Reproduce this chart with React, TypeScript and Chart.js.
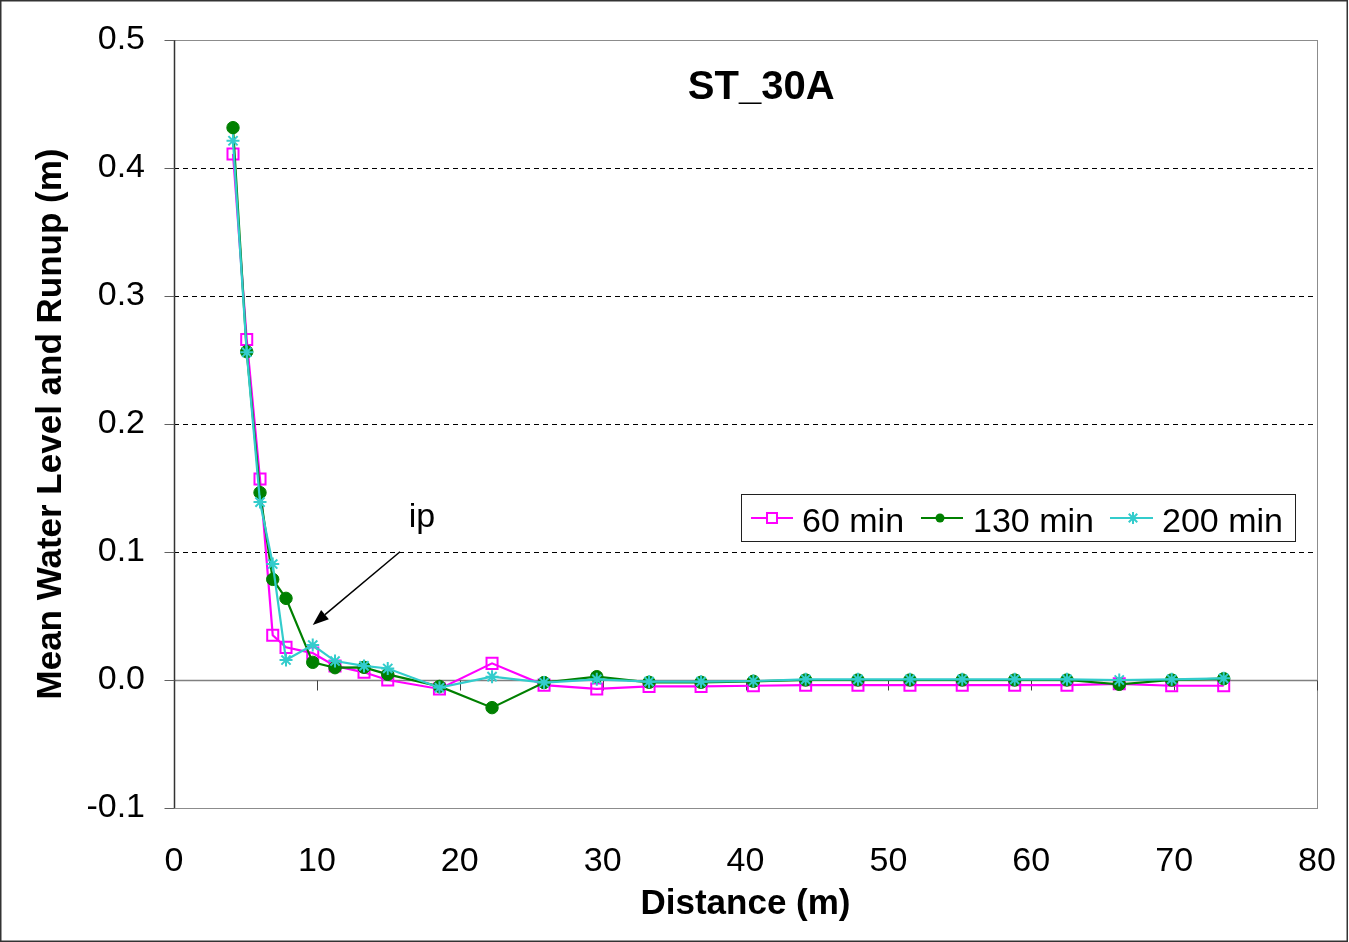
import React, { useEffect, useRef } from 'react';
import { Chart, registerables } from 'chart.js';

Chart.register(...registerables);

// ---------- data ----------
const distance = [4.13, 5.09, 6.02, 6.91, 7.84, 9.71, 11.27, 13.3, 14.96, 18.58, 22.26, 25.9, 29.59, 33.25, 36.89, 40.55, 44.21, 47.87, 51.51, 55.17, 58.84, 62.5, 66.16, 69.83, 73.47];
const min60 = [0.411, 0.266, 0.157, 0.035, 0.0255, 0.021, 0.011, 0.006, 0.0, -0.007, 0.013, -0.004, -0.007, -0.005, -0.005, -0.0045, -0.004, -0.004, -0.004, -0.004, -0.004, -0.004, -0.003, -0.0045, -0.0045];
const min130 = [0.4315, 0.2565, 0.1464, 0.0786, 0.0638, 0.0138, 0.0096, 0.0099, 0.0044, -0.005, -0.0216, -0.002, 0.0026, -0.0018, -0.0018, -0.001, 0, 0, 0, 0, 0, 0, -0.0034, 0, 0.001];
const min200 = [0.4213, 0.256, 0.139, 0.0906, 0.0156, 0.0273, 0.0148, 0.011, 0.009, -0.006, 0.0026, -0.002, 0.0005, -0.0013, -0.0013, -0.0008, 0.0005, 0.0005, 0.0005, 0.0005, 0.0005, 0.0005, 0, 0.0005, 0.0013];
const seriesNames = ['60 min', '130 min', '200 min'];
const xTicks = [0, 10, 20, 30, 40, 50, 60, 70, 80];
const yTicks = [-0.1, 0, 0.1, 0.2, 0.3, 0.4, 0.5];
const chartTitle = 'ST_30A';
const xTitle = 'Distance (m)';
const yTitle = 'Mean Water Level and Runup (m)';
const annotationText = 'ip';
const annotationTextAt = { x: 17.36, y: 0.1195 };
const arrowFrom = { x: 15.82, y: 0.1002 };
const arrowTo = { x: 9.71, y: 0.043 };

const FONT = "'Liberation Sans', Arial, Helvetica, sans-serif";
const MAGENTA = '#FF00FF';
const GREEN = '#008000';
const CYAN = '#33CCCC';

function drawStar(ctx: CanvasRenderingContext2D, cx: number, cy: number, r: number) {
  ctx.beginPath();
  for (let i = 0; i < 4; i++) {
    const a = (i * Math.PI) / 4;
    ctx.moveTo(cx - Math.cos(a) * r, cy - Math.sin(a) * r);
    ctx.lineTo(cx + Math.cos(a) * r, cy + Math.sin(a) * r);
  }
  ctx.stroke();
}

const decor = {
  id: 'decor',
  beforeDraw(chart: any) {
    const ctx = chart.ctx;
    ctx.save();
    ctx.fillStyle = '#ffffff';
    ctx.fillRect(0, 0, chart.width, chart.height);
    ctx.restore();
  },
  beforeDatasetsDraw(chart: any) {
    const { ctx, chartArea: a, scales } = chart;
    const x = scales.x;
    const y = scales.y;
    ctx.save();
    const line = (x1: number, y1: number, x2: number, y2: number) => {
      ctx.beginPath();
      ctx.moveTo(x1, y1);
      ctx.lineTo(x2, y2);
      ctx.stroke();
    };
    // dashed grid lines
    ctx.strokeStyle = '#000000';
    ctx.lineWidth = 1;
    ctx.setLineDash([5, 4]);
    for (const v of yTicks) {
      if (v <= 0 || v >= 0.5) continue;
      const py = Math.round(y.getPixelForValue(v)) + 0.5;
      line(a.left, py, a.right, py);
    }
    ctx.setLineDash([]);
    // plot border
    ctx.strokeStyle = '#8c8c8c';
    ctx.lineWidth = 1;
    ctx.strokeRect(Math.round(a.left) + 0.5, Math.round(a.top) + 0.5, Math.round(a.right - a.left), Math.round(a.bottom - a.top));
    // zero line with tick marks
    const y0 = Math.round(y.getPixelForValue(0)) + 0.5;
    ctx.strokeStyle = '#808080';
    ctx.lineWidth = 1.5;
    line(a.left, y0, a.right, y0);
    ctx.strokeStyle = '#404040';
    ctx.lineWidth = 1;
    for (const v of xTicks) {
      if (v === 0) continue;
      const px = Math.round(x.getPixelForValue(v)) + 0.5;
      line(px, y0, px, y0 + 10);
    }
    // y axis line and tick marks
    const ax = Math.round(a.left) + 0.5;
    ctx.strokeStyle = '#333333';
    ctx.lineWidth = 1.5;
    line(ax, a.top, ax, a.bottom);
    ctx.strokeStyle = '#606060';
    ctx.lineWidth = 1;
    for (const v of yTicks) {
      const py = Math.round(y.getPixelForValue(v)) + 0.5;
      line(ax - 10, py, ax, py);
    }
    ctx.restore();
  },
  afterDatasetsDraw(chart: any) {
    const { ctx, chartArea: a, scales } = chart;
    const x = scales.x;
    const y = scales.y;
    ctx.save();
    // title
    ctx.fillStyle = '#000000';
    ctx.font = `bold 40px ${FONT}`;
    ctx.textAlign = 'center';
    ctx.textBaseline = 'alphabetic';
    ctx.fillText(chartTitle, x.getPixelForValue(41.1), y.getPixelForValue(0.4537));
    // annotation
    ctx.font = `34px ${FONT}`;
    ctx.fillText(annotationText, x.getPixelForValue(annotationTextAt.x), y.getPixelForValue(annotationTextAt.y));
    const x1 = x.getPixelForValue(arrowFrom.x);
    const y1 = y.getPixelForValue(arrowFrom.y);
    const x2 = x.getPixelForValue(arrowTo.x);
    const y2 = y.getPixelForValue(arrowTo.y);
    const ang = Math.atan2(y2 - y1, x2 - x1);
    const headLen = 16;
    const headW = 6;
    const bx = x2 - Math.cos(ang) * headLen;
    const by = y2 - Math.sin(ang) * headLen;
    ctx.strokeStyle = '#000000';
    ctx.lineWidth = 1.5;
    ctx.beginPath();
    ctx.moveTo(x1, y1);
    ctx.lineTo(bx, by);
    ctx.stroke();
    ctx.beginPath();
    ctx.moveTo(x2, y2);
    ctx.lineTo(bx + Math.sin(ang) * headW, by - Math.cos(ang) * headW);
    ctx.lineTo(bx - Math.sin(ang) * headW, by + Math.cos(ang) * headW);
    ctx.closePath();
    ctx.fillStyle = '#000000';
    ctx.fill();

    // legend box
    const boxL = a.left + 567;
    const boxT = a.top + 454;
    const boxW = 554;
    const boxH = 47;
    ctx.fillStyle = '#ffffff';
    ctx.fillRect(boxL, boxT, boxW, boxH);
    ctx.strokeStyle = '#202020';
    ctx.lineWidth = 1;
    ctx.strokeRect(Math.round(boxL) + 0.5, Math.round(boxT) + 0.5, boxW, boxH);
    const cy = boxT + 24;
    const items = [
      { color: MAGENTA, l: boxL + 10, r: boxL + 52, m: boxL + 31, tx: boxL + 61, kind: 'rect' },
      { color: GREEN, l: boxL + 180, r: boxL + 222, m: boxL + 199, tx: boxL + 232, kind: 'circle' },
      { color: CYAN, l: boxL + 369, r: boxL + 412, m: boxL + 392, tx: boxL + 421, kind: 'star' },
    ];
    items.forEach((it, i) => {
      ctx.strokeStyle = it.color;
      ctx.lineWidth = 2;
      ctx.beginPath();
      ctx.moveTo(it.l, cy);
      ctx.lineTo(it.r, cy);
      ctx.stroke();
      if (it.kind === 'rect') {
        ctx.fillStyle = '#ffffff';
        ctx.fillRect(it.m - 5, cy - 5, 10, 10);
        ctx.strokeRect(it.m - 5, cy - 5, 10, 10);
      } else if (it.kind === 'circle') {
        ctx.fillStyle = it.color;
        ctx.beginPath();
        ctx.arc(it.m, cy, 4.5, 0, Math.PI * 2);
        ctx.fill();
      } else {
        drawStar(ctx, it.m, cy, 6);
      }
      ctx.fillStyle = '#000000';
      ctx.font = `34px ${FONT}`;
      ctx.textAlign = 'left';
      ctx.textBaseline = 'alphabetic';
      ctx.fillText(seriesNames[i], it.tx, boxT + 38);
    });

    // outer frame
    ctx.strokeStyle = '#333333';
    ctx.lineWidth = 1.5;
    ctx.strokeRect(0.75, 0.75, chart.width - 2.5, chart.height - 1.5);
    ctx.restore();
  },
};

export default function App() {
  const canvasRef = useRef<HTMLCanvasElement | null>(null);

  useEffect(() => {
    const canvas = canvasRef.current;
    if (!canvas) return;
    const mk = (vals: number[]) => distance.map((d, i) => ({ x: d, y: vals[i] }));
    const chart = new Chart(canvas, {
      type: 'line',
      data: {
        datasets: [
          {
            label: seriesNames[0],
            data: mk(min60),
            borderColor: MAGENTA,
            backgroundColor: 'transparent',
            borderWidth: 2.2,
            pointStyle: 'rect',
            pointRadius: 7.8,
            pointBorderWidth: 2,
            pointBorderColor: MAGENTA,
            pointBackgroundColor: 'transparent',
            tension: 0,
            order: 2,
          },
          {
            label: seriesNames[1],
            data: mk(min130),
            borderColor: GREEN,
            backgroundColor: GREEN,
            borderWidth: 2.2,
            pointStyle: 'circle',
            pointRadius: 6.2,
            pointBorderWidth: 1,
            pointBorderColor: GREEN,
            pointBackgroundColor: GREEN,
            tension: 0,
            order: 1,
          },
          {
            label: seriesNames[2],
            data: mk(min200),
            borderColor: CYAN,
            backgroundColor: CYAN,
            borderWidth: 2.2,
            pointStyle: 'star',
            pointRadius: 6.5,
            pointBorderWidth: 2,
            pointBorderColor: CYAN,
            pointBackgroundColor: CYAN,
            tension: 0,
            order: 0,
          },
        ],
      },
      options: {
        responsive: false,
        animation: false,
        devicePixelRatio: 1,
        layout: { padding: { top: 40, right: 32, left: 0, bottom: 0 } },
        plugins: {
          legend: { display: false },
          tooltip: { enabled: false },
          title: { display: false },
        },
        scales: {
          x: {
            type: 'linear',
            position: 'bottom',
            min: 0,
            max: 80,
            afterFit: (s: any) => {
              s.height = 134;
              s.paddingLeft = 0;
              s.paddingRight = 0;
            },
            afterBuildTicks: (s: any) => {
              s.ticks = xTicks.map((v) => ({ value: v }));
            },
            grid: { display: false, drawTicks: false },
            border: { display: false },
            ticks: {
              color: '#000000',
              padding: 33,
              maxRotation: 0,
              autoSkip: false,
              font: { family: FONT, size: 34 },
              callback: (v: any) => String(v),
            },
            title: {
              display: true,
              text: xTitle,
              color: '#000000',
              font: { family: FONT, size: 35, weight: 'bold' },
              padding: { top: 0, bottom: 17 },
            },
          },
          y: {
            type: 'linear',
            min: -0.1,
            max: 0.5,
            afterFit: (s: any) => {
              s.width = 174;
              s.paddingTop = 0;
              s.paddingBottom = 0;
            },
            afterBuildTicks: (s: any) => {
              s.ticks = yTicks.map((v) => ({ value: v }));
            },
            grid: { display: false, drawTicks: false },
            border: { display: false },
            ticks: {
              color: '#000000',
              padding: 29,
              autoSkip: false,
              font: { family: FONT, size: 34 },
              callback: (v: any) => (Math.abs(v) < 1e-9 ? '0.0' : Number(v).toFixed(1)),
            },
            title: {
              display: true,
              text: yTitle,
              color: '#000000',
              font: { family: FONT, size: 35, weight: 'bold' },
              padding: { top: 30, bottom: 0 },
            },
          },
        },
      },
      plugins: [decor],
    } as any);
    return () => {
      chart.destroy();
    };
  }, []);

  return (
    <div style={{ position: 'fixed', left: 0, top: 0, width: 1349, height: 942, background: '#fff' }}>
      <canvas ref={canvasRef} width={1349} height={942} style={{ display: 'block', width: 1349, height: 942 }} />
    </div>
  );
}
